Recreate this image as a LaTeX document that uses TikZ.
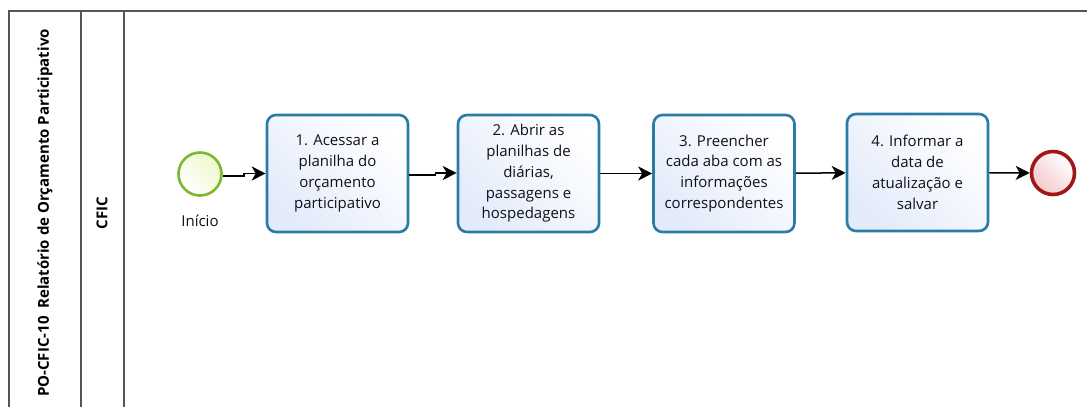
\documentclass[tikz,border=0pt]{standalone}
\usepackage{fontspec}
\setmainfont{Open Sans}
\usetikzlibrary{arrows.meta,shapes.geometric}
\definecolor{lanegray}{HTML}{555555}
\definecolor{taskblue}{HTML}{2A7BA6}
\definecolor{taskfill}{HTML}{E3EBFA}
\definecolor{startgreen}{HTML}{7DB72F}
\definecolor{startfill}{HTML}{EEF7CC}
\definecolor{endred}{HTML}{A11616}
\definecolor{endfill}{HTML}{F2C9CB}
\definecolor{txt}{HTML}{101018}
\tikzset{
  lane/.style={draw=lanegray, line width=1.3pt},
  task/.style={rectangle, rounded corners=9pt, draw=taskblue, line width=2.6pt,
    minimum width=141pt, minimum height=117pt, align=center,
    shading=axis, left color=white, right color=taskfill, shading angle=-45,
    text=txt, font=\fontsize{15}{20.8}\selectfont, inner sep=2pt},
  startev/.style={circle, draw=startgreen, line width=2.6pt, minimum size=43pt,
    inner sep=0pt, shading=axis, left color=startfill, right color=white, shading angle=-45},
  endev/.style={circle, draw=endred, line width=3.6pt, minimum size=43pt,
    inner sep=0pt, shading=axis, left color=white, right color=endfill, shading angle=-45},
  flow/.style={draw=black, line width=1.5pt, -{Stealth[length=14pt,width=14pt,inset=4pt]}},
  lanetitle/.style={rotate=90, font=\fontsize{15}{18}\selectfont\bfseries, text=black, inner sep=0pt},
  lbl/.style={font=\fontsize{15}{18}\selectfont, text=txt, inner sep=0pt}
}
\begin{document}
\begin{tikzpicture}[x=1pt,y=-1pt]
\useasboundingbox (0,0) rectangle (1087,407);
\fill[white] (0,0) rectangle (1087,407);
% pool and lane lines
\draw[lane] (9,407) -- (9,11) -- (1087,11);
\draw[lane] (81,11) -- (81,407);
\draw[lane] (124,11) -- (124,407);
\node[lanetitle] (pool) at (45,213) {PO-CFIC-10\ \ Relatório de Orçamento Participativo};
\node[lanetitle] (lanename) at (102,213) {CFIC};
% events and tasks
\node[startev] (start) at (200,174) {};
\node[lbl] (startlbl) at (200,221) {Início};
\node[task] (t1) at (337.5,173.5) {1. Acessar a\\planilha do\\orçamento\\participativo};
\node[task] (t2) at (528.5,173.5) {2. Abrir as\\planilhas de\\diárias,\\passagens e\\hospedagens};
\node[task] (t3) at (724,173.5) {3. Preencher\\cada aba com as\\informações\\correspondentes};
\node[task] (t4) at (917.5,172.5) {4. Informar a\\data de\\atualização e\\salvar};
\node[endev] (end) at (1053,173) {};
% flows
\draw[flow] ([yshift=-2pt]start.east) -- ++(21,0) |- (t1.west);
\draw[flow] ([yshift=-1.5pt]t1.east) -- ++(26,0) |- ([yshift=0.5pt]t2.west);
\draw[flow] (t2) -- (t3);
\draw[flow] (t3) -- (t4);
\draw[flow] (t4) -- (end);
\end{tikzpicture}
\end{document}
